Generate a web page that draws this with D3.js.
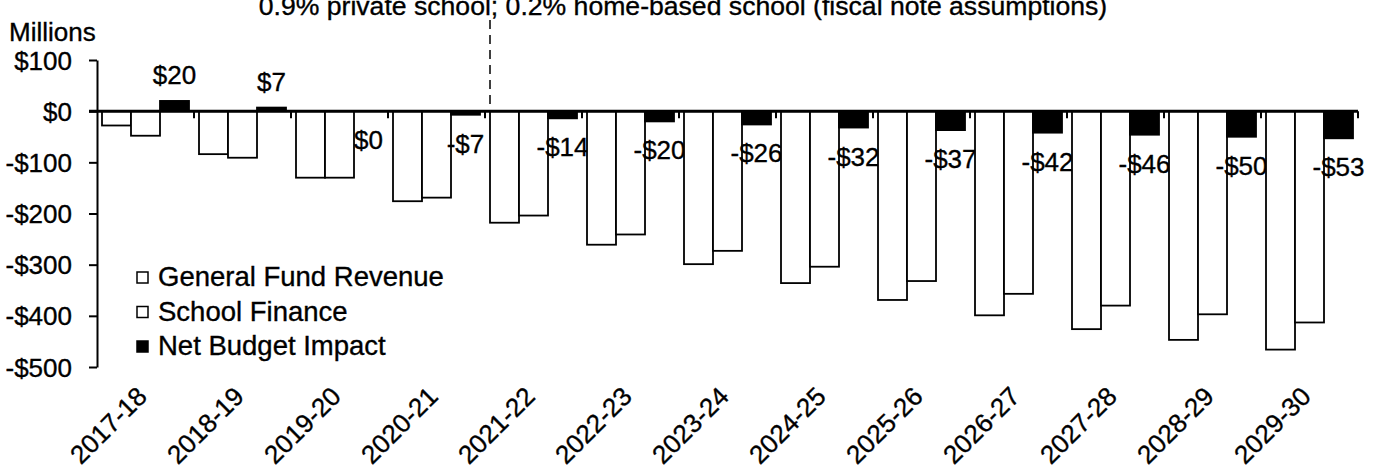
<html>
<head>
<script src="https://d3js.org/d3.v7.min.js"></script>
<style>
body { margin: 0; background: #fff; }
svg text { font-family: "Liberation Sans", Arial, sans-serif; fill: #000; stroke: #000; stroke-width: 0.35px; }
</style>
</head>
<body>
<div id="chart"></div>
<script type="text/javascript">

// fiscal years on the category axis
var years = ["2017-18","2018-19","2019-20","2020-21","2021-22","2022-23","2023-24",
             "2024-25","2025-26","2026-27","2027-28","2028-29","2029-30"];
var seriesNames = ["General Fund Revenue", "School Finance", "Net Budget Impact"];

// values in $ millions
var generalFund = [-28, -84, -130, -176, -218, -261, -299, -336, -369, -399, -426, -447, -466];
var schoolFinance = [-48, -91, -130, -169, -204, -241, -273, -304, -332, -357, -380, -397, -413];
var netImpact = [20, 7, 0, -7, -14, -20, -26, -32, -37, -42, -46, -50, -53];

var yTicks = [100, 0, -100, -200, -300, -400, -500];
var title = "0.9% private school; 0.2% home-based school (fiscal note assumptions)";

var width = 1380, height = 474;

var svg = d3.select("#chart").append("svg")
	.attr("width", width)
	.attr("height", height);

var x0 = d3.scaleBand()
	.domain(years)
	.range([97, 1358])
	.paddingInner(10 / 97)
	.paddingOuter(5 / 97);

var x1 = d3.scaleBand()
	.domain(seriesNames)
	.range([0, x0.bandwidth()]);

var y = d3.scaleLinear()
	.domain([-500, 100])
	.range([367, 60]);

var step = x0.step();

// build rows for the bars
var data = years.map(function(yr, i) {
	return { year: yr, values: [
		{ name: seriesNames[0], v: generalFund[i] },
		{ name: seriesNames[1], v: schoolFinance[i] },
		{ name: seriesNames[2], v: netImpact[i] }
	]};
});

// y axis
var yAxis = svg.append("g")
	.attr("transform", "translate(97,0)")
	.call(d3.axisLeft(y)
		.tickValues(yTicks)
		.tickSize(8)
		.tickSizeOuter(0)
		.tickPadding(17)
		.tickFormat(function(d) { return (d < 0 ? "-$" : "$") + Math.abs(d); }));
yAxis.selectAll("text").style("font-size", "26px").attr("dy", "0.35em");
yAxis.selectAll("line").style("stroke", "#000").style("stroke-width", 2);
yAxis.select(".domain").style("stroke", "#000").style("stroke-width", 2);

svg.append("text")
	.attr("x", 9)
	.attr("y", 41)
	.style("font-size", "26px")
	.text("Millions");

// bars
var groups = svg.selectAll(".year")
	.data(data)
	.enter().append("g")
	.attr("class", "year")
	.attr("transform", function(d) { return "translate(" + x0(d.year) + ",0)"; });

groups.selectAll("rect")
	.data(function(d) { return d.values; })
	.enter().append("rect")
	.attr("x", function(d) { return x1(d.name); })
	.attr("y", function(d) { return y(Math.max(0, d.v)); })
	.attr("width", x1.bandwidth())
	.attr("height", function(d) { return Math.abs(y(d.v) - y(0)); })
	.style("fill", function(d) { return d.name == seriesNames[2] ? "#000" : "#fff"; })
	.style("stroke", "#000")
	.style("stroke-width", 1.8);

// net labels
groups.append("text")
	.attr("x", x1(seriesNames[2]) + x1.bandwidth() / 2)
	.attr("y", function(d, i) {
		var v = netImpact[i];
		return v > 0 ? y(v) - 17 : y(v) + 38;
	})
	.attr("text-anchor", "middle")
	.style("font-size", "26px")
	.text(function(d, i) {
		var v = netImpact[i];
		return (v < 0 ? "-$" : "$") + Math.abs(v);
	});

// zero line and category ticks
svg.append("line")
	.attr("x1", 89).attr("x2", 1358)
	.attr("y1", y(0)).attr("y2", y(0))
	.style("stroke", "#000")
	.style("stroke-width", 3);

svg.selectAll(".ctick")
	.data(years)
	.enter().append("line")
	.attr("class", "ctick")
	.attr("x1", function(d) { return x0(d) - 5 + step; })
	.attr("x2", function(d) { return x0(d) - 5 + step; })
	.attr("y1", y(0))
	.attr("y2", y(0) + 7)
	.style("stroke", "#000")
	.style("stroke-width", 2);

// rotated category labels
svg.selectAll(".xlab")
	.data(years)
	.enter().append("text")
	.attr("class", "xlab")
	.attr("text-anchor", "end")
	.attr("transform", function(d) {
		return "translate(" + (x0(d) + x0.bandwidth() / 2 + 3) + ",398) rotate(-45)";
	})
	.style("font-size", "26px")
	.text(function(d) { return d; });

// assumption note and divider
svg.append("text")
	.attr("x", 683)
	.attr("y", 15)
	.attr("text-anchor", "middle")
	.style("font-size", "26.6px")
	.text(title);

var divX = x0(years[4]);
svg.append("line")
	.attr("x1", divX).attr("x2", divX)
	.attr("y1", 20).attr("y2", y(0) - 2)
	.style("stroke", "#000")
	.style("stroke-width", 1.5)
	.style("stroke-dasharray", "9,6");

// legend
var legend = svg.selectAll(".legend")
	.data(seriesNames)
	.enter().append("g")
	.attr("class", "legend")
	.attr("transform", function(d, i) { return "translate(137," + (286 + i * 34.5) + ")"; });

legend.append("rect")
	.attr("x", 0)
	.attr("y", -14)
	.attr("width", 11)
	.attr("height", 11)
	.style("fill", function(d, i) { return i == 2 ? "#000" : "#fff"; })
	.style("stroke", "#000")
	.style("stroke-width", 1.5);

legend.append("text")
	.attr("x", 21)
	.attr("y", 0)
	.style("font-size", "27.5px")
	.text(function(d) { return d; });

</script>
</body>
</html>
